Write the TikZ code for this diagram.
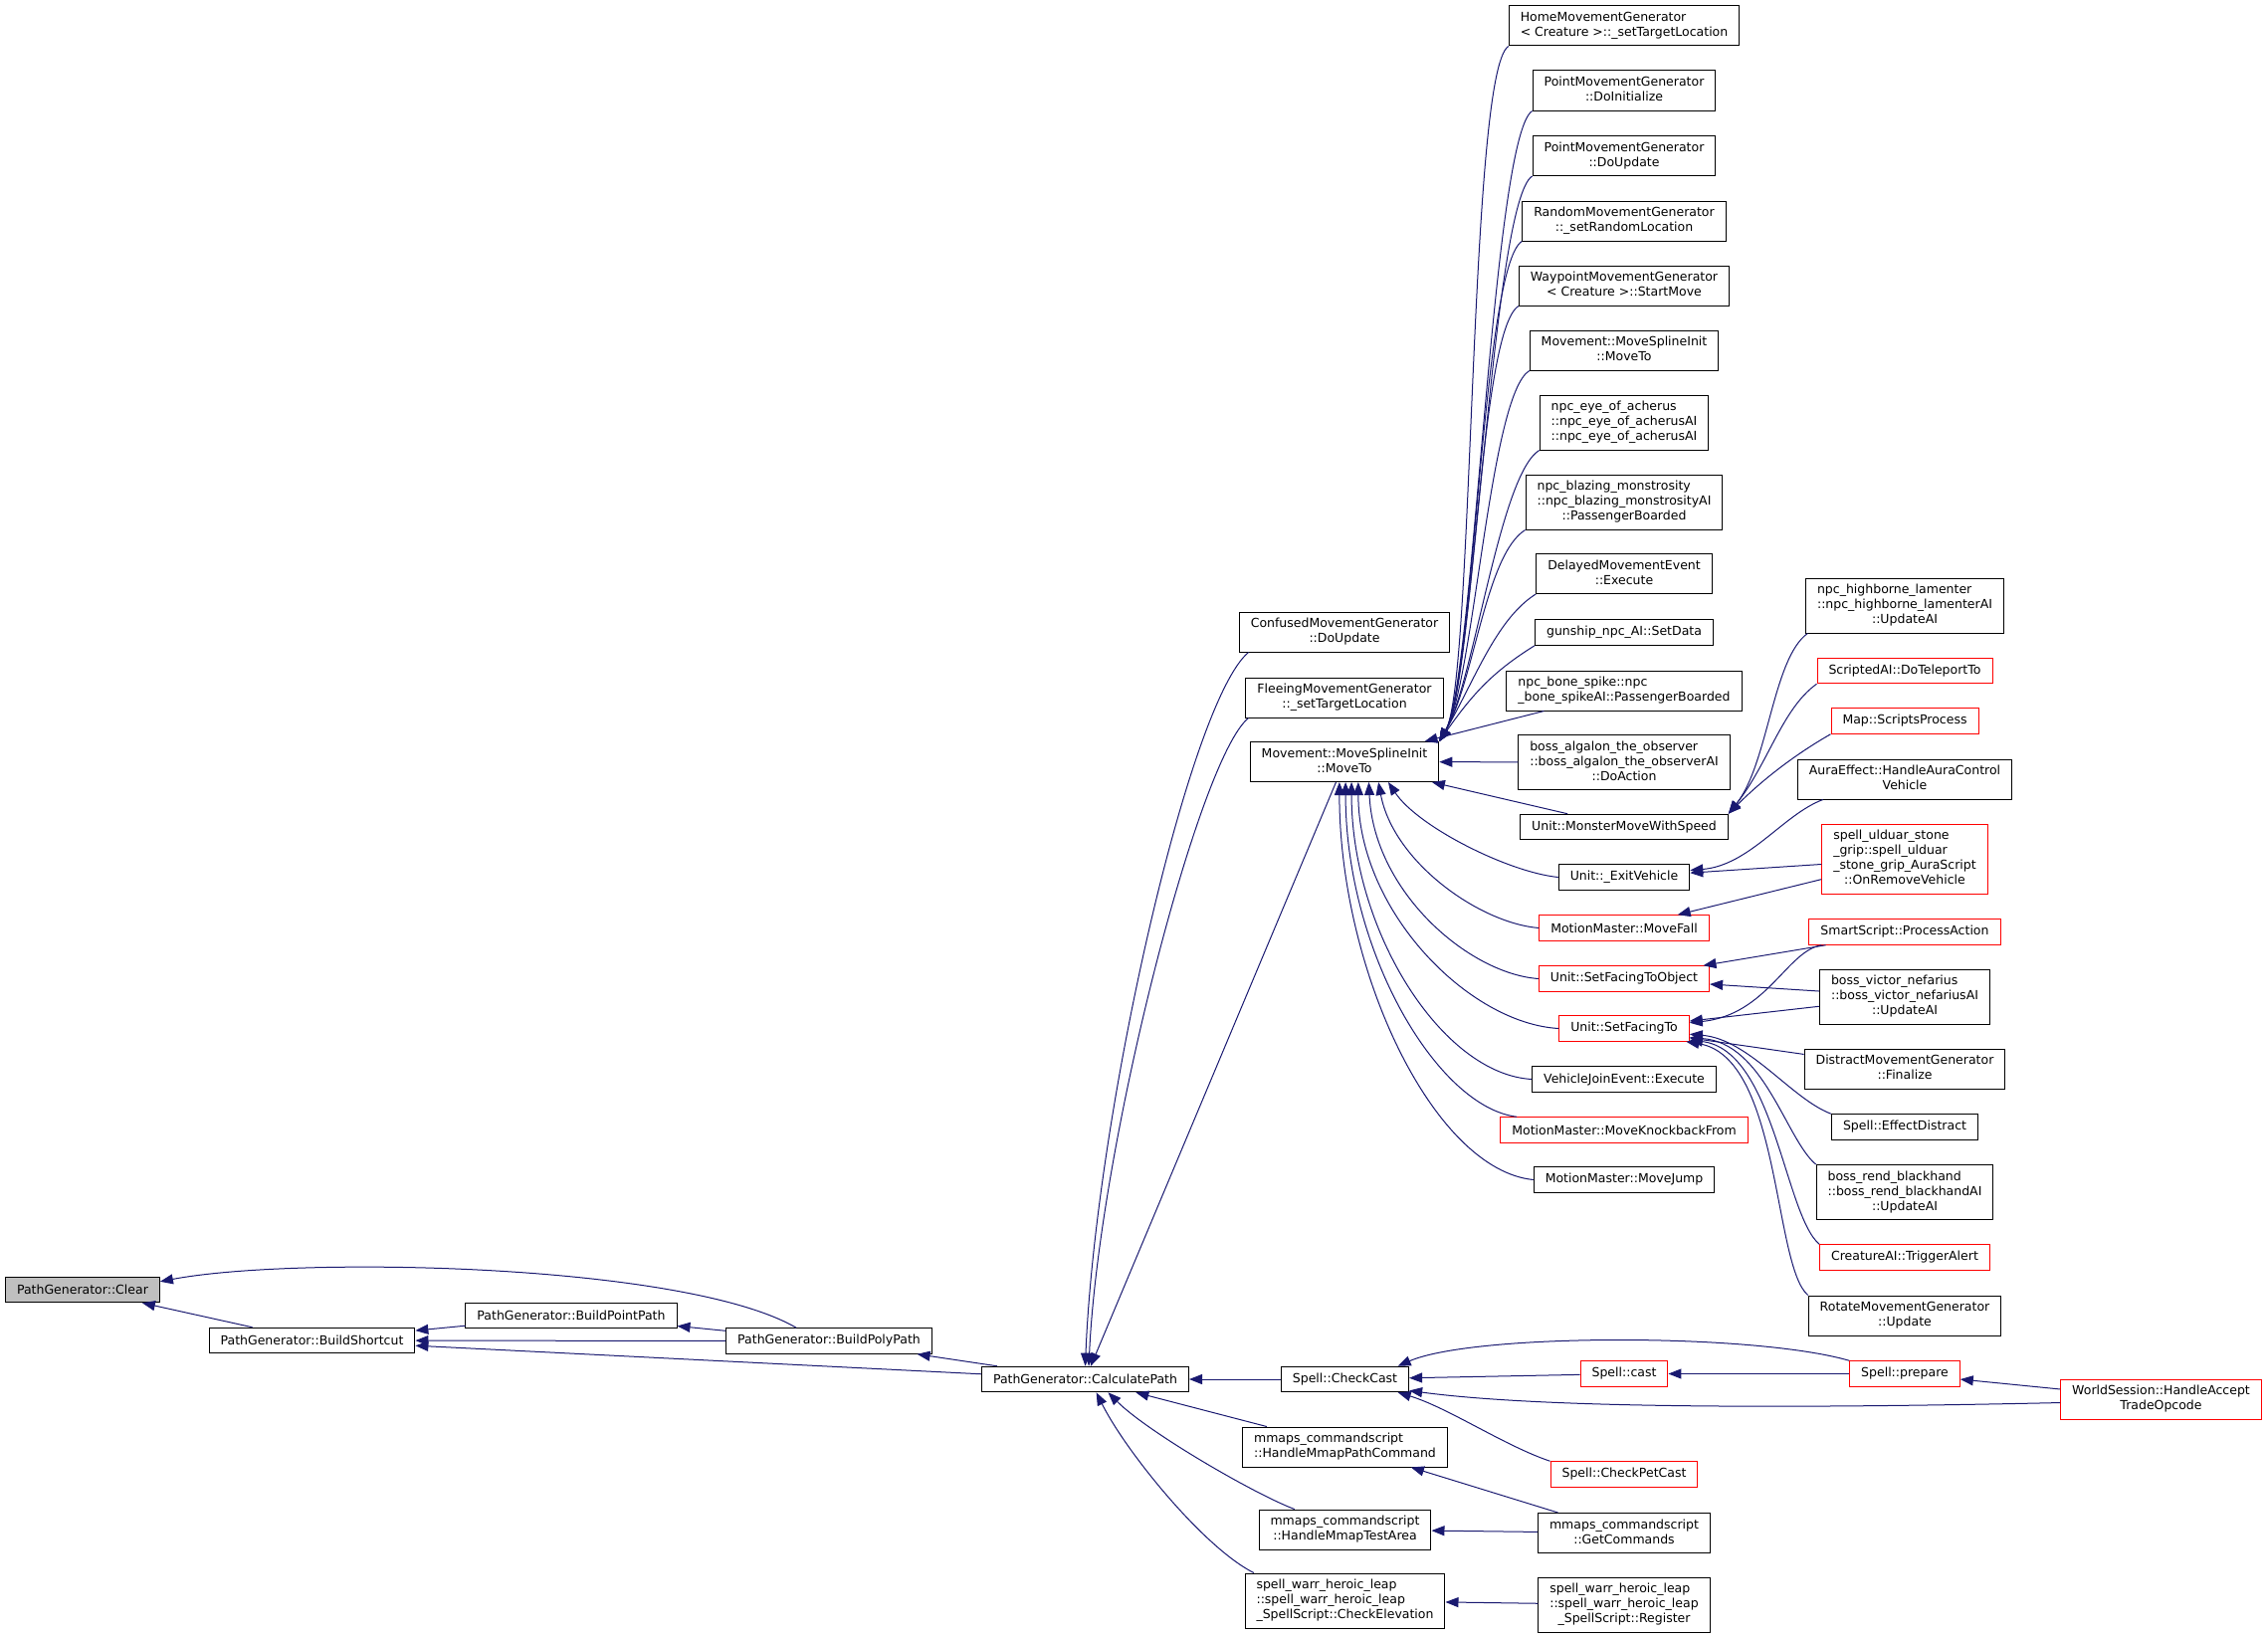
\documentclass[tikz,border=0pt]{standalone}
\usepackage{fontspec}
\setmainfont{DejaVu Sans}
\usetikzlibrary{arrows.meta}
\definecolor{edgeblue}{HTML}{191970}
\definecolor{nodered}{HTML}{FF0000}
\definecolor{focusgray}{HTML}{BFBFBF}
% all lines but the last one left aligned, last one centred
\newcommand{\fnlines}[2]{\begin{tabular}{@{}l@{}}#1\\\multicolumn{1}{@{}c@{}}{#2}\end{tabular}}

\begin{document}
\begin{tikzpicture}[x=1pt,y=-1pt,>={Triangle[length=13pt,width=10pt]},
  func/.style={draw=black,line width=1pt,fill=white,inner xsep=11.5pt,inner ysep=5pt,minimum height=25.5pt,font=\fontsize{12.5}{15}\selectfont},
  funcred/.style={func,draw=nodered},
  focus/.style={func,fill=focusgray},
  call/.style={->,draw=edgeblue,line width=1pt}]
  \useasboundingbox (0,0) rectangle (2279,1646);
  % left part
  \node[focus] (clear) at (83,1296) {PathGenerator::Clear};
  \node[func] (sc) at (313.5,1347) {PathGenerator::BuildShortcut};
  \node[func] (pp) at (574,1322) {PathGenerator::BuildPointPath};
  \node[func] (poly) at (833,1347.5) {PathGenerator::BuildPolyPath};
  \node[func] (calc) at (1090.5,1386) {PathGenerator::CalculatePath};
  % callers of CalculatePath
  \node[func] (confused) at (1351,635) {\fnlines{ConfusedMovementGenerator}{::DoUpdate}};
  \node[func] (fleeing) at (1351,701) {\fnlines{FleeingMovementGenerator}{::\_setTargetLocation}};
  \node[func] (mt) at (1351,765.5) {\fnlines{Movement::MoveSplineInit}{::MoveTo}};
  \node[func] (cc) at (1351.5,1386) {Spell::CheckCast};
  \node[func] (hmpc) at (1351.5,1454) {\fnlines{mmaps\_commandscript}{::HandleMmapPathCommand}};
  \node[func] (hmta) at (1351.5,1537) {\fnlines{mmaps\_commandscript}{::HandleMmapTestArea}};
  \node[func] (ce) at (1351.5,1608.5) {\fnlines{spell\_warr\_heroic\_leap\\::spell\_warr\_heroic\_leap}{\_SpellScript::CheckElevation}};
  % callers of MoveTo and CheckCast
  \node[func] (home) at (1632,26) {\fnlines{HomeMovementGenerator}{< Creature >::\_setTargetLocation}};
  \node[func] (pinit) at (1632,91) {\fnlines{PointMovementGenerator}{::DoInitialize}};
  \node[func] (pupd) at (1632,156.5) {\fnlines{PointMovementGenerator}{::DoUpdate}};
  \node[func] (rand) at (1632,222) {\fnlines{RandomMovementGenerator}{::\_setRandomLocation}};
  \node[func] (wayp) at (1632,287) {\fnlines{WaypointMovementGenerator}{< Creature >::StartMove}};
  \node[func] (mt2) at (1632,352) {\fnlines{Movement::MoveSplineInit}{::MoveTo}};
  \node[func] (eye) at (1632,424.5) {\fnlines{npc\_eye\_of\_acherus\\::npc\_eye\_of\_acherusAI}{::npc\_eye\_of\_acherusAI}};
  \node[func] (blaze) at (1632,504.5) {\fnlines{npc\_blazing\_monstrosity\\::npc\_blazing\_monstrosityAI}{::PassengerBoarded}};
  \node[func] (delay) at (1632,576.5) {\fnlines{DelayedMovementEvent}{::Execute}};
  \node[func] (gun) at (1632,635.5) {gunship\_npc\_AI::SetData};
  \node[func] (bone) at (1632,694) {\fnlines{npc\_bone\_spike::npc}{\_bone\_spikeAI::PassengerBoarded}};
  \node[func] (alg) at (1632,766) {\fnlines{boss\_algalon\_the\_observer\\::boss\_algalon\_the\_observerAI}{::DoAction}};
  \node[func] (mmws) at (1632,831) {Unit::MonsterMoveWithSpeed};
  \node[func] (exitv) at (1632,881.5) {Unit::\_ExitVehicle};
  \node[funcred] (fall) at (1632,932.5) {MotionMaster::MoveFall};
  \node[funcred] (sfto) at (1632,983.5) {Unit::SetFacingToObject};
  \node[funcred] (sft) at (1632,1033.5) {Unit::SetFacingTo};
  \node[func] (vje) at (1632,1084.5) {VehicleJoinEvent::Execute};
  \node[funcred] (knock) at (1632,1135.5) {MotionMaster::MoveKnockbackFrom};
  \node[func] (jump) at (1632,1185.5) {MotionMaster::MoveJump};
  \node[funcred] (cast) at (1632,1380.5) {Spell::cast};
  \node[funcred] (petcast) at (1632,1481.5) {Spell::CheckPetCast};
  \node[func] (gc) at (1632,1540.5) {\fnlines{mmaps\_commandscript}{::GetCommands}};
  \node[func] (reg) at (1632,1612.5) {\fnlines{spell\_warr\_heroic\_leap\\::spell\_warr\_heroic\_leap}{\_SpellScript::Register}};
  % right part
  \node[func] (hb) at (1914,608.5) {\fnlines{npc\_highborne\_lamenter\\::npc\_highborne\_lamenterAI}{::UpdateAI}};
  \node[funcred] (sai) at (1914,674) {ScriptedAI::DoTeleportTo};
  \node[funcred] (msp) at (1914,724.5) {Map::ScriptsProcess};
  \node[func] (aura) at (1914,783) {\fnlines{AuraEffect::HandleAuraControl}{Vehicle}};
  \node[funcred] (uld) at (1914,863) {\fnlines{spell\_ulduar\_stone\\\_grip::spell\_ulduar\\\_stone\_grip\_AuraScript}{::OnRemoveVehicle}};
  \node[funcred] (smart) at (1914,936.5) {SmartScript::ProcessAction};
  \node[func] (victor) at (1914,1001.5) {\fnlines{boss\_victor\_nefarius\\::boss\_victor\_nefariusAI}{::UpdateAI}};
  \node[func] (distract) at (1914,1074) {\fnlines{DistractMovementGenerator}{::Finalize}};
  \node[func] (effd) at (1914,1132.5) {Spell::EffectDistract};
  \node[func] (rend) at (1914,1198) {\fnlines{boss\_rend\_blackhand\\::boss\_rend\_blackhandAI}{::UpdateAI}};
  \node[funcred] (alert) at (1914,1263.5) {CreatureAI::TriggerAlert};
  \node[func] (rot) at (1914,1322) {\fnlines{RotateMovementGenerator}{::Update}};
  \node[funcred] (prep) at (1914,1380.5) {Spell::prepare};
  \node[funcred] (ws) at (2171.5,1406) {\fnlines{WorldSession::HandleAccept}{TradeOpcode}};

  % edges, arrow at the called function
  \draw[call] (sc) -- (clear);
  \draw[call] (poly.158) .. controls +(-112,-65) and +(137,-26) .. (clear.6);
  \draw[call] (pp) -- (sc); \draw[call] (poly) -- (sc); \draw[call] (calc) -- (sc);
  \draw[call] (poly) -- (pp); \draw[call] (calc) -- (poly);
  \draw[call] (confused.192) .. controls +(-60,50) and +(10,-250) .. (calc.north);
  \draw[call] (fleeing.192) .. controls +(-50,40) and +(10,-220) .. (calc.75);
  \draw[call] (mt) -- (calc); \draw[call] (cc) -- (calc); \draw[call] (hmpc) -- (calc);
  \draw[call] (hmta.158) .. controls +(-40,-15) and +(40,40) .. (calc.-30);
  \draw[call] (ce.163) .. controls +(-50,-25) and +(30,60) .. (calc.-50);
  \draw[call] (home.south west) .. controls +(-40,25) and +(35,-60) .. (mt.north east);
  \draw[call] (pinit.south west) .. controls +(-40,25) and +(35,-60) .. (mt.north east);
  \draw[call] (pupd.south west) .. controls +(-40,25) and +(35,-60) .. (mt.north east);
  \draw[call] (rand.south west) .. controls +(-40,25) and +(35,-60) .. (mt.north east);
  \draw[call] (wayp.south west) .. controls +(-40,25) and +(35,-60) .. (mt.north east);
  \draw[call] (mt2.south west) .. controls +(-40,25) and +(35,-60) .. (mt.north east);
  \draw[call] (eye.south west) .. controls +(-40,25) and +(35,-60) .. (mt.north east);
  \draw[call] (blaze.south west) .. controls +(-40,25) and +(35,-60) .. (mt.north east);
  \draw[call] (delay.south west) .. controls +(-40,25) and +(35,-60) .. (mt.north east);
  \draw[call] (gun.south west) .. controls +(-40,25) and +(35,-50) .. (mt.north east);
  \draw[call] (bone) -- (mt); \draw[call] (alg) -- (mt); \draw[call] (mmws) -- (mt);
  \draw[call] (exitv.west) .. controls +(-50,-5) and +(30,45) .. (mt.-25);
  \draw[call] (fall.west) .. controls +(-60,-5) and +(15,80) .. (mt.-31);
  \draw[call] (sfto.west) .. controls +(-70,-5) and +(5,110) .. (mt.-40);
  \draw[call] (sft.west) .. controls +(-90,-5) and +(0,130) .. (mt.-56);
  \draw[call] (vje.west) .. controls +(-90,-5) and +(0,150) .. (mt.-71);
  \draw[call] (knock.173) .. controls +(-80,-10) and +(0,170) .. (mt.-87);
  \draw[call] (jump.west) .. controls +(-100,-10) and +(0,190) .. (mt.256);
  \draw[call] (hb.196) .. controls +(-35,25) and +(40,-50) .. (mmws.north east);
  \draw[call] (sai.south west) .. controls +(-35,25) and +(40,-50) .. (mmws.north east);
  \draw[call] (msp.south west) .. controls +(-35,20) and +(35,-35) .. (mmws.north east);
  \draw[call] (aura.194) .. controls +(-40,15) and +(60,-5) .. (exitv.6);
  \draw[call] (uld) -- (exitv); \draw[call] (uld) -- (fall);
  \draw[call] (smart) -- (sfto); \draw[call] (victor) -- (sfto);
  \draw[call] (smart.189) .. controls +(-35,6) and +(78,-8) .. (sft.5);
  \draw[call] (victor) -- (sft); \draw[call] (distract) -- (sft);
  \draw[call] (effd.north west) .. controls +(-40,-15) and +(60,5) .. (sft.-5);
  \draw[call] (rend.north west) .. controls +(-30,-25) and +(75,5) .. (sft.-8);
  \draw[call] (alert.north west) .. controls +(-35,-30) and +(85,10) .. (sft.-10);
  \draw[call] (rot.north west) .. controls +(-35,-30) and +(95,15) .. (sft.-12);
  \draw[call] (prep.north west) .. controls +(-97,-28) and +(76,-33) .. (cc.14);
  \draw[call] (cast) -- (cc);
  \draw[call] (ws.182) .. controls +(-270,6) and +(134,18) .. (cc.-10);
  \draw[call] (petcast.north west) .. controls +(-45,-15) and +(50,15) .. (cc.-14);
  \draw[call] (prep) -- (cast); \draw[call] (ws) -- (prep);
  \draw[call] (gc) -- (hmpc); \draw[call] (gc) -- (hmta); \draw[call] (reg) -- (ce);
\end{tikzpicture}
\end{document}
